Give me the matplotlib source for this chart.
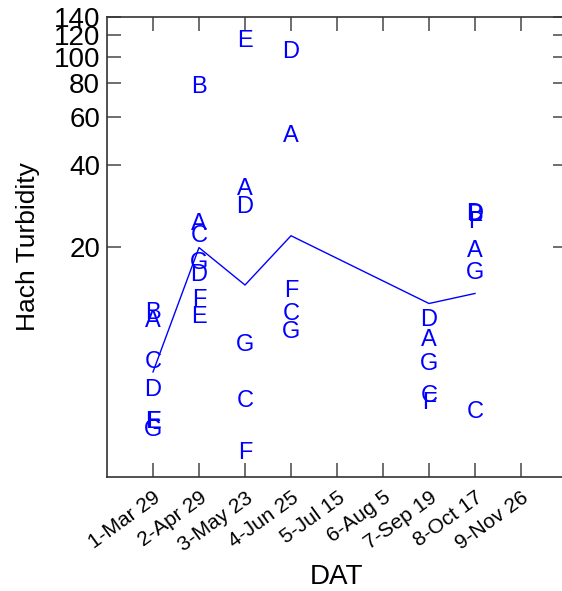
import numpy as np
import matplotlib
matplotlib.use("Agg")
import matplotlib.pyplot as plt
from matplotlib.ticker import FixedLocator, NullLocator, FixedFormatter

nan = np.nan
dates = ["1-Mar 29", "2-Apr 29", "3-May 23", "4-Jun 25", "5-Jul 15",
         "6-Aug 5", "7-Sep 19", "8-Oct 17", "9-Nov 26"]
A = [10.96, 24.8, 33.3, 52.3, nan, nan, 9.3, 19.8, nan]
B = [11.7, 79.4, nan, nan, nan, nan, nan, 26.7, nan]
C = [7.69, 22.5, 5.56, 11.6, nan, nan, 5.8, 5.04, nan]
D = [6.07, 16.1, 28.6, 105.9, nan, nan, 11.0, 27.1, nan]
E = [4.63, 11.3, 117.2, nan, nan, nan, nan, nan, nan]
F = [4.63, 13.1, 3.57, 14.1, nan, nan, 5.48, 25.3, nan]
G = [4.36, 17.8, 8.9, 9.96, nan, nan, 7.58, 16.4, nan]
mean_line = [6.95, 19.9, 14.5, 22.0, nan, nan, 12.4, 13.5, nan]
yticks = [20, 40, 60, 80, 100, 120, 140]

series = {"A": A, "B": B, "C": C, "D": D, "E": E, "F": F, "G": G}

plt.rcParams['font.family'] = ['Liberation Sans', 'DejaVu Sans']
W, H = 562, 591
fig = plt.figure(figsize=(W / 100, H / 100), dpi=100)
left, right, top, bottom = 107, 567, 17, 477
ax = fig.add_axes([left / W, (H - bottom) / H, (right - left) / W, (bottom - top) / H])

xs = np.arange(1, len(dates) + 1)
blue = "#0000ff"
for name, vals in series.items():
    for x, v in zip(xs, vals):
        if not np.isnan(v):
            ax.text(x, v, name, color=blue, fontsize=17, ha="center",
                    va="center_baseline")

ml = np.array(mean_line)
m = ~np.isnan(ml)
ax.plot(xs[m], ml[m], color=blue, lw=1.0)

ax.set_yscale("log")
ax.set_ylim(20 / 7, 140)
ax.set_xlim(0, 10)
ax.yaxis.set_major_locator(FixedLocator(yticks))
ax.yaxis.set_major_formatter(FixedFormatter([str(t) for t in yticks]))
ax.yaxis.set_minor_locator(NullLocator())
ax.set_xticks(xs)
ax.set_xticklabels(dates, rotation=36, ha="right", rotation_mode="anchor", fontsize=15)
ax.tick_params(axis="y", labelsize=20, pad=5)
ax.tick_params(direction="in", length=10, width=1.2, color="#555555",
               top=True, right=True)
ax.tick_params(axis="x", pad=8)
for s in ax.spines.values():
    s.set_color("#333333")
    s.set_linewidth(1.2)

ax.set_xlabel("DAT", fontsize=20, labelpad=7)
ax.set_ylabel("Hach Turbidity", fontsize=19, labelpad=10)

fig.savefig("out.png", dpi=100)
